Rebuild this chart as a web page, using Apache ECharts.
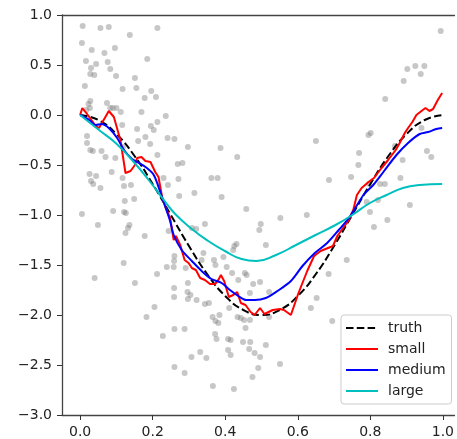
<!DOCTYPE html>
<html>
<head>
<meta charset="utf-8">
<script src="https://cdn.jsdelivr.net/npm/echarts@6/dist/echarts.min.js"></script>
<style>
  html, body { margin: 0; padding: 0; background: #fff; }
  #chart { width: 457px; height: 439px; }
</style>
</head>
<body>
<div id="chart"></div>
<script>
// noisy samples (gray dots)
const pointX = [0.007,0.056,0.079,0.137,0.213,0.005,0.032,0.067,0.096,0.016,0.044,0.076,0.030,0.083,0.028,0.039,0.099,0.185,0.151,0.013,
  0.117,0.155,0.196,0.178,0.209,0.028,0.023,0.074,0.083,0.090,0.112,0.169,0.157,0.195,0.213,0.019,0.180,0.160,0.193,0.019,
  0.028,0.035,0.059,0.070,0.097,0.213,0.087,0.026,0.044,0.030,0.036,0.056,0.117,0.121,0.140,0.149,0.123,0.091,0.121,0.005,
  0.027,0.017,0.100,0.116,0.118,0.203,0.236,
  0.049,0.136,0.132,0.125,0.178,0.120,0.040,0.151,0.183,0.205,0.212,0.228,0.260,0.260,0.288,0.288,0.307,0.331,0.348,0.366,0.126,
  0.344,0.320,0.308,0.244,0.431,0.425,0.422,0.260,0.259,0.340,0.335,0.369,0.395,0.373,0.239,0.258,0.291,0.404,0.419,0.454,
  0.459,0.436,0.297,0.259,0.296,0.304,0.259,0.297,0.321,0.344,0.355,0.411,0.477,0.468,0.365,0.373,0.384,0.381,0.434,0.443,
  0.452,0.468,0.456,0.372,0.376,0.408,0.415,0.449,0.469,0.466,0.408,0.415,0.481,0.475,0.424,
  0.552,0.625,0.498,0.494,0.512,0.735,0.685,0.496,0.521,0.652,0.636,0.521,0.695,0.512,0.496,0.551,0.491,
  0.847,0.810,0.799,
  0.241,0.260,0.297,0.387,0.433,0.269,0.282,0.230,0.271,0.362,0.379,0.242,0.315,0.273,0.390,0.458,
  0.650,0.686,0.747,
  0.994,0.902,0.924,0.949,0.939,0.892,0.841,0.801,0.795,0.769,0.767,0.889,0.941,0.956,0.968,0.868,0.883,0.827,0.840,0.797,
  0.821,0.790,0.909];
const pointY = [0.89,0.87,0.88,0.80,0.87,0.72,0.65,0.62,0.67,0.54,0.51,0.53,0.47,0.46,0.41,0.40,0.39,0.56,0.37,0.29,
  0.26,0.27,0.24,0.17,0.18,0.14,0.11,0.12,0.07,0.07,0.03,0.03,-0.14,-0.11,-0.07,-0.21,-0.22,-0.26,-0.29,-0.28,
  -0.35,-0.36,-0.36,-0.42,-0.43,-0.40,-0.57,-0.59,-0.61,-0.66,-0.69,-0.73,-0.63,-0.71,-0.70,-0.84,-0.86,-0.96,-0.97,-0.99,
  0.07,0.05,0.07,-0.10,-0.32,-0.15,-0.01,
  -1.10,-1.10,-1.13,-1.18,-1.21,-1.48,-1.63,-1.68,-2.02,-1.92,-1.59,-2.21,-2.52,-2.14,-2.14,-2.58,-2.42,-2.37,-2.43,-2.71,-0.98,
  -1.09,-1.14,-1.13,-1.16,-1.29,-1.31,-1.35,-1.41,-1.46,-1.38,-1.45,-1.45,-1.42,-1.50,-1.52,-1.52,-1.53,-1.52,-1.58,-1.58,
  -1.60,-1.65,-1.68,-1.73,-1.77,-1.80,-1.82,-1.84,-1.85,-1.89,-1.88,-1.93,-1.69,-1.78,-2.02,-2.06,-2.00,-2.08,-2.02,-2.03,
  -2.05,-2.05,-2.13,-2.19,-2.24,-2.24,-2.25,-2.27,-2.27,-2.34,-2.35,-2.40,-2.38,-2.62,-2.74,
  -1.03,-1.00,-1.09,-1.15,-1.30,-1.45,-1.59,-1.67,-1.77,-1.83,-1.93,-2.02,-2.06,-2.30,-2.42,-2.49,-2.53,
  -1.05,-1.12,-0.97,
  -0.23,-0.24,-0.32,-0.33,-0.42,-0.49,-0.48,-0.63,-0.64,-0.63,-0.63,-0.70,-0.78,-0.81,-0.82,-0.94,
  -0.26,-0.65,-0.62,
  0.84,0.46,0.49,0.49,0.41,0.34,0.16,-0.18,-0.20,-0.38,-0.50,-0.45,-0.13,-0.36,-0.42,-0.31,-0.63,-0.69,-0.69,-0.69,
  -0.85,-0.87,-0.90];

// truth curve
const truthX = [0,0.05,0.1,0.15,0.2,0.25,0.3,0.35,0.4,0.45,0.5,0.55,0.6,0.65,0.7,0.75,0.8,0.85,0.9,0.95,1.0];
const truthY = [0,-0.05,-0.19,-0.41,-0.69,-1.0,-1.31,-1.59,-1.81,-1.95,-2.0,-1.95,-1.81,-1.59,-1.31,-1.0,-0.69,-0.41,-0.19,-0.05,0];

// small model
const smallX = [0,0.006,0.017,0.043,0.052,0.068,0.079,0.093,0.111,0.125,0.139,0.151,0.157,0.169,0.18,0.194,0.207,0.216,0.226,0.235,
  0.248,0.258,0.264,0.276,0.288,0.299,0.308,0.319,0.331,0.344,0.358,0.372,0.381,0.388,0.397,0.41,0.422,0.433,0.443,0.456,
  0.47,0.481,0.496,0.508,0.531,0.551,0.562,0.581,0.602,0.626,0.645,0.663,0.697,0.709,0.739,0.753,0.763,0.776,0.795,0.81,
  0.831,0.849,0.87,0.881,0.895,0.904,0.916,0.927,0.941,0.952,0.963,0.973,0.986,0.998];
const smallY = [0,0.07,0.02,-0.11,-0.13,-0.03,0.04,-0.02,-0.25,-0.58,-0.56,-0.50,-0.43,-0.42,-0.46,-0.47,-0.57,-0.62,-0.82,-0.92,
  -1.03,-1.25,-1.21,-1.30,-1.45,-1.48,-1.53,-1.55,-1.63,-1.65,-1.69,-1.69,-1.65,-1.60,-1.66,-1.82,-1.80,-1.77,-1.88,-1.90,
  -1.97,-2.0,-1.93,-1.99,-1.95,-1.94,-1.95,-2.0,-1.78,-1.56,-1.41,-1.36,-1.31,-1.21,-1.06,-0.95,-0.80,-0.73,-0.67,-0.63,
  -0.53,-0.45,-0.35,-0.28,-0.18,-0.13,-0.07,0.0,0.04,0.07,0.04,0.06,0.15,0.22];

// medium model
const mediumX = [0,0.025,0.043,0.059,0.079,0.102,0.121,0.143,0.162,0.184,0.203,0.221,0.235,0.248,0.258,0.28,0.308,0.335,0.362,0.39,
  0.413,0.436,0.458,0.481,0.512,0.544,0.581,0.613,0.647,0.681,0.713,0.745,0.781,0.808,0.836,0.872,0.904,0.936,0.959,0.982,0.998];
const mediumY = [0,-0.05,-0.10,-0.09,-0.13,-0.23,-0.35,-0.44,-0.48,-0.53,-0.60,-0.77,-0.92,-1.06,-1.20,-1.35,-1.46,-1.56,-1.64,-1.68,
  -1.75,-1.81,-1.85,-1.85,-1.83,-1.76,-1.66,-1.51,-1.38,-1.28,-1.15,-1.01,-0.80,-0.70,-0.57,-0.40,-0.28,-0.19,-0.17,-0.14,-0.13];

// large model
const largeX = [0,0.052,0.098,0.143,0.189,0.235,0.262,0.308,0.353,0.399,0.445,0.486,0.54,0.595,0.649,0.704,0.75,0.799,0.845,0.89,0.936,0.998];
const largeY = [0,-0.15,-0.28,-0.45,-0.65,-0.87,-0.99,-1.14,-1.26,-1.36,-1.44,-1.46,-1.40,-1.30,-1.20,-1.10,-1.0,-0.88,-0.80,-0.73,-0.70,-0.69];

const xTicks = [0, 0.2, 0.4, 0.6, 0.8, 1.0];

const zip = (xs, ys) => xs.map((x, i) => [x, ys[i]]);
const font = 'DejaVu Sans';
const spine = { show: true, onZero: false, lineStyle: { color: '#444', width: 1.3 } };

const chart = echarts.init(document.getElementById('chart'), null, { renderer: 'canvas' });

const lineSeries = (name, xs, ys, color, dashed, smooth) => ({
  name: name,
  type: 'line',
  xAxisIndex: 0,
  data: zip(xs, ys),
  symbol: 'none',
  smooth: smooth,
  lineStyle: { color: color, width: 2, type: dashed ? [7.5, 3.3] : 'solid' },
  itemStyle: { color: color },
  animation: false
});

chart.setOption({
  animation: false,
  grid: { left: 62, right: 0, top: 15, bottom: 23 },
  xAxis: [{
    type: 'value', min: -0.05, max: 1.032,
    axisLine: spine,
    splitLine: { show: false },
    axisTick: { show: true, customValues: xTicks, length: 5, lineStyle: { color: '#333' } },
    axisLabel: {
      customValues: xTicks, margin: 10,
      fontFamily: font, fontSize: 14, color: '#222',
      formatter: v => v.toFixed(1)
    }
  }, {
    type: 'value', position: 'top', min: -0.05, max: 1.032,
    axisLine: spine,
    splitLine: { show: false },
    axisTick: { show: false },
    axisLabel: { show: false }
  }],
  yAxis: {
    type: 'value', min: -3, max: 1, interval: 0.5,
    axisLine: spine,
    splitLine: { show: false },
    axisTick: { show: true, length: 5, lineStyle: { color: '#333' } },
    axisLabel: {
      margin: 10, fontFamily: font, fontSize: 14, color: '#222',
      formatter: v => v.toFixed(1).replace('-', '\u2212')
    }
  },
  legend: {
    data: ['truth', 'small', 'medium', 'large'],
    orient: 'vertical',
    left: 341, top: 315,
    padding: [6, 6, 6, 4],
    itemWidth: 32, itemHeight: 14, itemGap: 7,
    itemStyle: { opacity: 0 },
    backgroundColor: 'rgba(255,255,255,0.85)',
    borderColor: '#ccc', borderWidth: 1, borderRadius: 3,
    textStyle: { fontFamily: font, fontSize: 14, color: '#222', padding: [0, 0, 0, 5] }
  },
  series: [
    {
      type: 'scatter',
      data: zip(pointX, pointY),
      symbolSize: 6,
      itemStyle: { color: 'rgba(128,128,128,0.55)' },
      animation: false,
      silent: true
    },
    lineSeries('truth', truthX, truthY, '#000000', true, true),
    lineSeries('small', smallX, smallY, '#ff0000', false, false),
    lineSeries('medium', mediumX, mediumY, '#0000ff', false, 0.3),
    lineSeries('large', largeX, largeY, '#00bfbf', false, true)
  ]
});
</script>
</body>
</html>
